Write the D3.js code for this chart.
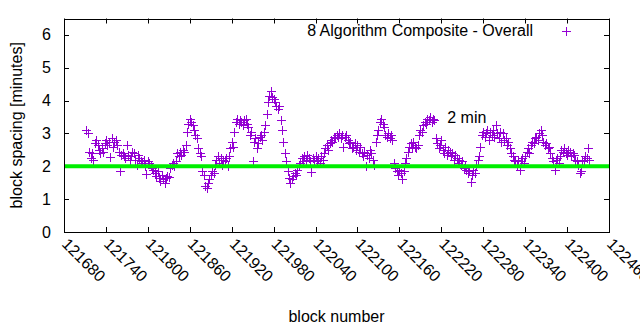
<!DOCTYPE html>
<html><head><meta charset="utf-8">
<script src="https://cdn.jsdelivr.net/npm/d3@7"></script>
<style>body{margin:0;background:#fff}text{font-family:"Liberation Sans",Arial,sans-serif;font-size:16px;fill:#000}</style>
</head><body><svg id="c" width="640" height="330"></svg>
<script>
const seriesName = "8 Algorithm Composite - Overall";
const firstBlock = 121712, blockStep = 2;
const spacing = [
3.10,3.00,2.45,2.25,2.40,2.20,2.70,2.80,2.65,2.50,
2.40,2.55,2.45,2.70,2.80,2.65,2.75,2.28,2.85,2.60,
2.75,2.80,2.65,2.45,1.87,2.35,2.40,2.30,2.25,2.65,
2.35,2.20,2.30,2.45,2.40,2.20,2.05,2.35,2.25,2.15,
2.10,2.20,2.00,1.78,2.15,2.10,2.05,1.95,1.90,1.80,
1.70,1.85,1.65,1.55,1.75,1.60,1.50,1.65,1.70,1.68,
1.95,2.05,2.10,2.00,2.15,2.40,2.30,2.45,2.35,2.50,
2.45,2.66,3.05,3.30,3.45,3.35,3.25,3.10,2.95,2.85,
2.55,2.40,2.30,1.85,1.75,1.40,1.35,1.50,1.60,1.75,
1.85,1.80,2.05,2.20,2.30,2.10,2.25,2.05,2.20,2.15,
2.25,2.00,2.30,2.55,2.75,2.60,3.05,3.35,3.45,3.30,
3.40,3.35,3.25,3.40,3.45,3.30,3.20,2.95,3.05,2.15,
2.75,2.85,2.55,2.70,2.90,2.95,2.80,3.05,3.25,3.60,
3.95,4.15,4.30,4.10,4.05,3.95,3.85,3.75,3.85,3.40,
3.10,2.75,2.40,2.15,1.85,1.65,1.50,1.60,1.70,1.80,
1.75,1.90,2.00,2.10,2.25,2.15,2.30,2.20,2.35,2.25,
2.15,1.84,2.25,2.20,2.30,2.15,2.25,2.10,2.30,2.20,
2.40,2.55,2.65,2.50,2.70,2.80,2.75,2.90,2.85,2.95,
2.90,3.00,2.85,2.95,2.60,2.90,2.95,2.80,2.70,2.75,
2.55,2.60,2.70,2.50,2.65,2.45,2.60,2.40,2.30,2.45,
2.00,2.35,2.25,2.50,2.40,2.20,2.05,2.75,2.95,3.10,
3.35,3.45,3.30,3.20,2.95,2.90,3.00,2.85,2.95,2.80,
2.10,1.95,1.85,1.75,1.90,1.80,1.60,1.85,2.10,2.25,
2.45,2.60,2.70,2.55,2.75,2.60,2.55,2.65,2.95,3.10,
3.05,3.25,3.35,3.30,3.45,3.40,3.50,3.35,3.45,3.40,
2.85,2.70,2.55,2.65,2.80,2.50,2.40,2.60,2.35,2.50,
2.45,2.30,2.40,2.20,2.35,2.25,2.10,2.20,2.05,2.15,
1.95,2.00,1.90,1.80,1.85,1.53,1.75,1.90,1.80,2.05,
2.20,2.30,2.60,2.95,3.05,2.90,3.00,3.10,2.80,3.05,
2.95,3.10,2.90,3.25,3.00,2.85,3.05,2.75,3.00,2.80,
2.85,2.65,2.75,2.55,2.40,2.30,2.20,2.15,2.05,2.20,
1.90,2.15,2.25,2.10,2.30,2.45,2.55,2.40,2.65,2.75,
2.70,2.85,2.90,2.80,3.00,3.12,2.95,2.75,2.65,2.70,
2.55,2.60,2.40,2.25,2.15,1.90,2.20,2.25,2.10,2.30,
2.50,2.45,2.55,2.40,2.35,2.50,2.45,2.30,2.40,2.35,
2.20,2.15,2.05,1.80,1.85,2.15,2.20,2.30,2.25,2.57,2.20
];
const xTicks = [121680,121740,121800,121860,121920,121980,122040,122100,122160,122220,122280,122340,122400,122460];
const yTicks = [0,1,2,3,4,5,6];
const target = 2;
const targetLabel = "2 min";

const svg = d3.select("#c");
const L=64, R=609, T=18.5, B=232;
const x = d3.scaleLinear().domain([121680,122460]).range([L,R]);
const y = d3.scaleLinear().domain([0,6.5]).range([B,T]);
const data = spacing.map((v,i)=>({b:firstBlock+i*blockStep, v}));
const purple="#9400d3";
const plus="M-4.5,0H4.5M0,-4.5V4.5";

const g = svg.append("g");
// ticks (inward, mirrored)
const tl=5;
xTicks.forEach(t=>{
  const px=Math.round(x(t))+0.5;
  g.append("line").attr("x1",px).attr("x2",px).attr("y1",B).attr("y2",B-tl).attr("stroke","#000");
  g.append("line").attr("x1",px).attr("x2",px).attr("y1",T).attr("y2",T+tl).attr("stroke","#000");
  g.append("text").attr("transform",`translate(${x(t)-3},${B+13}) rotate(45)`).text(t);
});
yTicks.forEach(t=>{
  const py=Math.round(y(t))+0.5;
  g.append("line").attr("x1",L).attr("x2",L+tl).attr("y1",py).attr("y2",py).attr("stroke","#000");
  g.append("line").attr("x1",R).attr("x2",R-tl).attr("y1",py).attr("y2",py).attr("stroke","#000");
  g.append("text").attr("x",L-13).attr("y",y(t)+5.5).attr("text-anchor","end").text(t);
});
// points
svg.append("g").selectAll("path").data(data).join("path")
  .attr("d",plus).attr("stroke",purple).attr("stroke-width",1).attr("fill","none")
  .attr("transform",d=>`translate(${Math.round(x(d.b))+0.5},${Math.round(y(d.v))+0.5})`);
// target line
svg.append("line").attr("x1",L).attr("x2",R).attr("y1",y(target)).attr("y2",y(target))
  .attr("stroke","#00ee00").attr("stroke-width",4);
svg.append("text").attr("x",x(122228.5)).attr("y",y(3.5)+6).text(targetLabel);
// border
svg.append("rect").attr("x",L+0.5).attr("y",Math.round(T)+0.5).attr("width",R-L).attr("height",Math.round(B)-Math.round(T))
  .attr("fill","none").attr("stroke","#000");
// legend
svg.append("text").attr("x",533).attr("y",36).attr("text-anchor","end").text(seriesName);
svg.append("path").attr("d",plus).attr("stroke",purple).attr("fill","none").attr("transform","translate(566.5,31.5)");
// axis titles
svg.append("text").attr("x",(L+R)/2).attr("y",322).attr("text-anchor","middle").text("block number");
svg.append("text").attr("transform",`translate(22,${(T+B)/2}) rotate(-90)`).attr("text-anchor","middle").text("block spacing [minutes]");
</script></body></html>
